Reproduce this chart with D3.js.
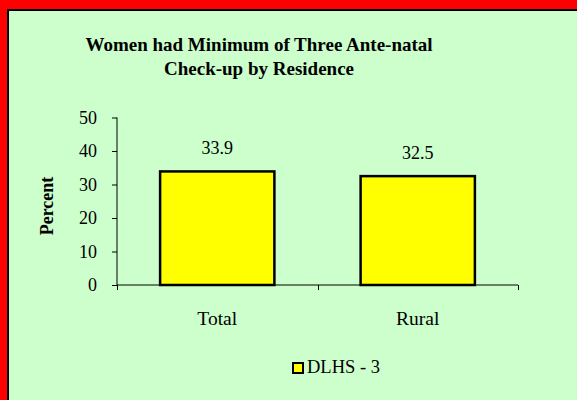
<!DOCTYPE html>
<html><head><meta charset="utf-8">
<script src="https://cdn.jsdelivr.net/npm/d3@7"></script>
<style>html,body{margin:0;padding:0;background:#ccffcc;overflow:hidden}
svg text{font-family:"Liberation Serif","DejaVu Serif",serif;font-size:18px;fill:#000}
svg text.b{font-weight:bold}
svg text.title{font-size:19px}
svg text.tick{font-size:18px}
svg text.cat{font-size:19.5px}
svg text.leg{font-size:18.5px}
</style>
</head><body>
<script>
const categories = ["Total", "Rural"];
const values = [33.9, 32.5];
const yTicks = [0, 10, 20, 30, 40, 50];
const seriesName = "DLHS - 3";
const titleLines = ["Women had Minimum of Three Ante-natal", "Check-up by Residence"];

const W = 577, H = 400;
const svg = d3.select("body").append("svg").attr("width", W).attr("height", H);

// frame
svg.append("rect").attr("x",0).attr("y",0).attr("width",W).attr("height",H).attr("fill","#ff0000");
svg.append("rect").attr("x",7).attr("y",9).attr("width",W).attr("height",H).attr("fill","#000");
svg.append("rect").attr("x",9).attr("y",11).attr("width",W).attr("height",H).attr("fill","#ccffcc");

// title
svg.append("text").attr("class","b title").attr("x",259).attr("y",51).attr("text-anchor","middle")
  .selectAll("tspan").data(titleLines).join("tspan")
  .attr("x",259).attr("dy",(d,i)=>i?24:0).text(d=>d);

const x = d3.scaleBand().domain(categories).range([117, 518]).paddingInner(0.43).paddingOuter(0.215);
const y = d3.scaleLinear().domain([0, 50]).range([285, 117.5]);

// y axis
const yAxis = svg.append("g").attr("transform","translate(117,0)")
  .call(d3.axisLeft(y).tickValues(yTicks).tickSize(5).tickPadding(15).tickFormat(d3.format("d")));
yAxis.attr("font-family",null).attr("font-size",null);
yAxis.selectAll("text").attr("class","tick");
yAxis.select(".domain").attr("stroke","#000").attr("d","M0,117.5V285");

// x axis
const xb = d3.scaleLinear().domain([0, categories.length]).range([117, 518]);
const xAxis = svg.append("g").attr("transform","translate(0,285)");
xAxis.append("line").attr("x1",117).attr("x2",518).attr("stroke","#000");
xAxis.selectAll("line.t").data(d3.range(categories.length+1)).join("line").attr("class","t")
  .attr("x1",d=>Math.round(xb(d))+0.5).attr("x2",d=>Math.round(xb(d))+0.5).attr("y1",0).attr("y2",5).attr("stroke","#000");
xAxis.selectAll("text").data(categories).join("text").attr("class","cat")
  .attr("x",d=>x(d)+x.bandwidth()/2).attr("y",40).attr("text-anchor","middle").text(d=>d);

// y label
svg.append("text").attr("class","b").attr("transform","translate(53,206) rotate(-90)").attr("text-anchor","middle").text("Percent");

// bars
svg.selectAll("rect.bar").data(values).join("rect").attr("class","bar")
  .attr("x",(d,i)=>x(categories[i])).attr("width",x.bandwidth())
  .attr("y",d=>y(d)).attr("height",d=>y(0)-y(d))
  .attr("fill","#ffff00").attr("stroke","#000").attr("stroke-width",2.5);

svg.selectAll("text.val").data(values).join("text").attr("class","val")
  .attr("x",(d,i)=>x(categories[i])+x.bandwidth()/2).attr("y",d=>y(d)-17)
  .attr("text-anchor","middle").text(d=>d.toFixed(1));

// legend
svg.append("rect").attr("x",293).attr("y",363).attr("width",10).attr("height",10)
  .attr("fill","#ffff00").attr("stroke","#000").attr("stroke-width",2);
svg.append("text").attr("class","leg").attr("x",307).attr("y",373).text(seriesName);
</script>
</body></html>
